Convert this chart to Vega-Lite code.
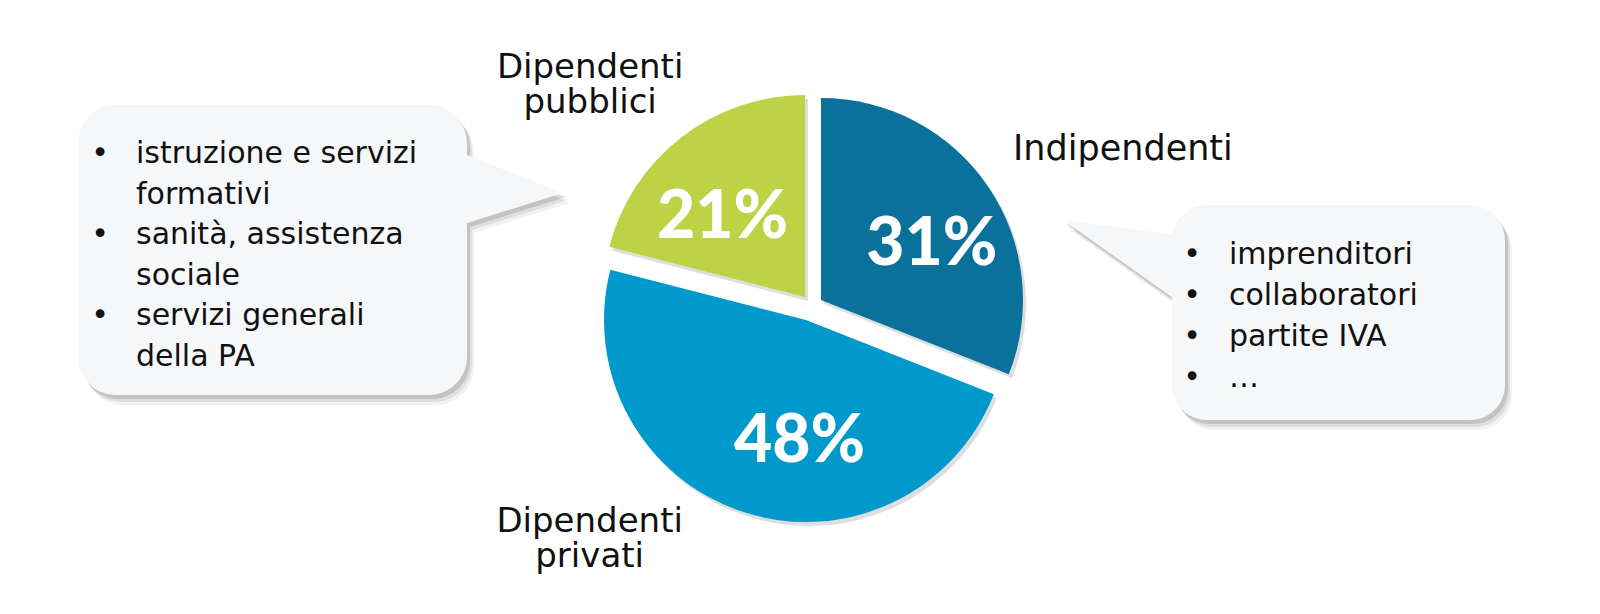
{
  "$schema": "https://vega.github.io/schema/vega-lite/v6.json",
  "width": 1600,
  "height": 614,
  "padding": 0,
  "autosize": {"type": "none"},
  "background": "#ffffff",
  "config": {"view": {"stroke": null}},
  "datasets": {
    "pie": [
      {"cat": "Indipendenti", "name": "Indipendenti", "value": 31, "ord": 1, "pct": "31%"},
      {"cat": "Dipendenti privati", "name": "Dipendenti\nprivati", "value": 48, "ord": 2, "pct": "48%"},
      {"cat": "Dipendenti pubblici", "name": "Dipendenti\npubblici", "value": 21, "ord": 3, "pct": "21%"}
    ],
    "callouts": [
      {"cat": "Dipendenti pubblici", "items": "istruzione e servizi\nformativi\nsanità, assistenza\nsociale\nservizi generali\ndella PA"},
      {"cat": "Indipendenti", "items": "imprenditori\ncollaboratori\npartite IVA\n…"}
    ]
  },
  "layer": [
    {
      "data": {"name": "callouts"},
      "mark": {"type": "point", "filled": true, "size": 4, "color": "#000000", "opacity": 0.05, "strokeWidth": 0, "xOffset": 7, "yOffset": 10},
      "encoding": {
        "x": {"datum": 0, "type": "quantitative", "scale": {"domain": [-1, 1]}, "axis": null},
        "y": {"datum": 0, "type": "quantitative", "scale": {"domain": [-1, 1]}, "axis": null},
        "shape": {"field": "cat", "type": "nominal", "legend": null, "scale": {"domain": ["Dipendenti pubblici", "Indipendenti"], "range": ["M-684,-202 L-371,-202 A38,38 0 0 1 -333,-164 L-333,50 A38,38 0 0 1 -371,88 L-684,88 A38,38 0 0 1 -722,50 L-722,-164 A38,38 0 0 1 -684,-202 Z M-237,-114 L-360,-75.6 L-360,-162.7 Z", "M407,-102 L670,-102 A35,35 0 0 1 705,-67 L705,78 A35,35 0 0 1 670,113 L407,113 A35,35 0 0 1 372,78 L372,-67 A35,35 0 0 1 407,-102 Z M263,-87 L400,-69 L400,10 Z"]}}
      }
    },
    {
      "data": {"name": "callouts"},
      "mark": {"type": "point", "filled": true, "size": 4, "color": "#000000", "opacity": 0.08, "strokeWidth": 0, "xOffset": 5, "yOffset": 7},
      "encoding": {
        "x": {"datum": 0, "type": "quantitative", "scale": {"domain": [-1, 1]}, "axis": null},
        "y": {"datum": 0, "type": "quantitative", "scale": {"domain": [-1, 1]}, "axis": null},
        "shape": {"field": "cat", "type": "nominal", "legend": null}
      }
    },
    {
      "data": {"name": "callouts"},
      "mark": {"type": "point", "filled": true, "size": 4, "color": "#000000", "opacity": 0.12, "strokeWidth": 0, "xOffset": 3, "yOffset": 4},
      "encoding": {
        "x": {"datum": 0, "type": "quantitative", "scale": {"domain": [-1, 1]}, "axis": null},
        "y": {"datum": 0, "type": "quantitative", "scale": {"domain": [-1, 1]}, "axis": null},
        "shape": {"field": "cat", "type": "nominal", "legend": null}
      }
    },
    {
      "data": {"name": "callouts"},
      "mark": {"type": "point", "filled": true, "size": 4, "color": "#f6f7f9", "opacity": 1, "strokeWidth": 0},
      "encoding": {
        "x": {"datum": 0, "type": "quantitative", "scale": {"domain": [-1, 1]}, "axis": null},
        "y": {"datum": 0, "type": "quantitative", "scale": {"domain": [-1, 1]}, "axis": null},
        "shape": {"field": "cat", "type": "nominal", "legend": null}
      }
    },
    {
      "data": {"name": "callouts"},
      "transform": [{"filter": "datum.cat === 'Dipendenti pubblici'"}],
      "mark": {"type": "text", "align": "center", "baseline": "alphabetic", "dx": -700, "dy": -144, "fontSize": 30, "font": "DejaVu Sans", "lineHeight": 81, "lineBreak": "\n", "color": "#111111"},
      "encoding": {
        "x": {"datum": 0, "type": "quantitative", "scale": {"domain": [-1, 1]}, "axis": null},
        "y": {"datum": 0, "type": "quantitative", "scale": {"domain": [-1, 1]}, "axis": null},
        "text": {"value": "•\n•\n•"}
      }
    },
    {
      "data": {"name": "callouts"},
      "transform": [{"filter": "datum.cat === 'Dipendenti pubblici'"}],
      "mark": {"type": "text", "align": "left", "baseline": "alphabetic", "dx": -664, "dy": -144, "fontSize": 30, "font": "DejaVu Sans", "lineHeight": 40.5, "lineBreak": "\n", "color": "#111111"},
      "encoding": {
        "x": {"datum": 0, "type": "quantitative", "scale": {"domain": [-1, 1]}, "axis": null},
        "y": {"datum": 0, "type": "quantitative", "scale": {"domain": [-1, 1]}, "axis": null},
        "text": {"field": "items", "type": "nominal"}
      }
    },
    {
      "data": {"name": "callouts"},
      "transform": [{"filter": "datum.cat === 'Indipendenti'"}],
      "mark": {"type": "text", "align": "center", "baseline": "alphabetic", "dx": 392, "dy": -43, "fontSize": 30, "font": "DejaVu Sans", "lineHeight": 41, "lineBreak": "\n", "color": "#111111"},
      "encoding": {
        "x": {"datum": 0, "type": "quantitative", "scale": {"domain": [-1, 1]}, "axis": null},
        "y": {"datum": 0, "type": "quantitative", "scale": {"domain": [-1, 1]}, "axis": null},
        "text": {"value": "•\n•\n•\n•"}
      }
    },
    {
      "data": {"name": "callouts"},
      "transform": [{"filter": "datum.cat === 'Indipendenti'"}],
      "mark": {"type": "text", "align": "left", "baseline": "alphabetic", "dx": 429, "dy": -43, "fontSize": 30, "font": "DejaVu Sans", "lineHeight": 41, "lineBreak": "\n", "color": "#111111"},
      "encoding": {
        "x": {"datum": 0, "type": "quantitative", "scale": {"domain": [-1, 1]}, "axis": null},
        "y": {"datum": 0, "type": "quantitative", "scale": {"domain": [-1, 1]}, "axis": null},
        "text": {"field": "items", "type": "nominal"}
      }
    },
    {
      "data": {"name": "pie"},
      "mark": {"type": "arc", "radius": 202, "color": "#000000", "xOffset": 24, "yOffset": -3},
      "encoding": {
        "x": {"datum": 0, "type": "quantitative", "scale": {"domain": [-1, 1]}, "axis": null},
        "y": {"datum": 0, "type": "quantitative", "scale": {"domain": [-1, 1]}, "axis": null},
        "theta": {"field": "value", "type": "quantitative", "stack": true},
        "order": {"field": "ord", "type": "quantitative"},
        "opacity": {"condition": {"test": "datum.cat === 'Indipendenti'", "value": 0.13}, "value": 0}
      }
    },
    {
      "data": {"name": "pie"},
      "mark": {"type": "arc", "radius": 202, "color": "#000000", "xOffset": 9, "yOffset": 17},
      "encoding": {
        "x": {"datum": 0, "type": "quantitative", "scale": {"domain": [-1, 1]}, "axis": null},
        "y": {"datum": 0, "type": "quantitative", "scale": {"domain": [-1, 1]}, "axis": null},
        "theta": {"field": "value", "type": "quantitative", "stack": true},
        "order": {"field": "ord", "type": "quantitative"},
        "opacity": {"condition": {"test": "datum.cat === 'Dipendenti privati'", "value": 0.13}, "value": 0}
      }
    },
    {
      "data": {"name": "pie"},
      "mark": {"type": "arc", "radius": 202, "color": "#000000", "xOffset": 8, "yOffset": -6},
      "encoding": {
        "x": {"datum": 0, "type": "quantitative", "scale": {"domain": [-1, 1]}, "axis": null},
        "y": {"datum": 0, "type": "quantitative", "scale": {"domain": [-1, 1]}, "axis": null},
        "theta": {"field": "value", "type": "quantitative", "stack": true},
        "order": {"field": "ord", "type": "quantitative"},
        "opacity": {"condition": {"test": "datum.cat === 'Dipendenti pubblici'", "value": 0.13}, "value": 0}
      }
    },
    {
      "data": {"name": "pie"},
      "mark": {"type": "arc", "radius": 202, "xOffset": 21, "yOffset": -7},
      "encoding": {
        "x": {"datum": 0, "type": "quantitative", "scale": {"domain": [-1, 1]}, "axis": null},
        "y": {"datum": 0, "type": "quantitative", "scale": {"domain": [-1, 1]}, "axis": null},
        "theta": {"field": "value", "type": "quantitative", "stack": true},
        "order": {"field": "ord", "type": "quantitative"},
        "color": {"field": "cat", "type": "nominal", "legend": null, "scale": {"domain": ["Indipendenti", "Dipendenti privati", "Dipendenti pubblici"], "range": ["#0a719b", "#0099cc", "#bdd244"]}},
        "opacity": {"condition": {"test": "datum.cat === 'Indipendenti'", "value": 1}, "value": 0}
      }
    },
    {
      "data": {"name": "pie"},
      "mark": {"type": "arc", "radius": 202, "xOffset": 6, "yOffset": 13},
      "encoding": {
        "x": {"datum": 0, "type": "quantitative", "scale": {"domain": [-1, 1]}, "axis": null},
        "y": {"datum": 0, "type": "quantitative", "scale": {"domain": [-1, 1]}, "axis": null},
        "theta": {"field": "value", "type": "quantitative", "stack": true},
        "order": {"field": "ord", "type": "quantitative"},
        "color": {"field": "cat", "type": "nominal", "legend": null},
        "opacity": {"condition": {"test": "datum.cat === 'Dipendenti privati'", "value": 1}, "value": 0}
      }
    },
    {
      "data": {"name": "pie"},
      "mark": {"type": "arc", "radius": 202, "xOffset": 5, "yOffset": -10},
      "encoding": {
        "x": {"datum": 0, "type": "quantitative", "scale": {"domain": [-1, 1]}, "axis": null},
        "y": {"datum": 0, "type": "quantitative", "scale": {"domain": [-1, 1]}, "axis": null},
        "theta": {"field": "value", "type": "quantitative", "stack": true},
        "order": {"field": "ord", "type": "quantitative"},
        "color": {"field": "cat", "type": "nominal", "legend": null},
        "opacity": {"condition": {"test": "datum.cat === 'Dipendenti pubblici'", "value": 1}, "value": 0}
      }
    },
    {
      "data": {"name": "pie"},
      "mark": {"type": "text", "radius": 123, "xOffset": 21, "yOffset": -7, "dx": 9, "dy": 14, "font": "Lato", "fontWeight": 900, "fontSize": 66, "color": "#ffffff", "align": "center", "baseline": "middle"},
      "encoding": {
        "x": {"datum": 0, "type": "quantitative", "scale": {"domain": [-1, 1]}, "axis": null},
        "y": {"datum": 0, "type": "quantitative", "scale": {"domain": [-1, 1]}, "axis": null},
        "theta": {"field": "value", "type": "quantitative", "stack": true},
        "order": {"field": "ord", "type": "quantitative"},
        "text": {"field": "pct", "type": "nominal"},
        "opacity": {"condition": {"test": "datum.cat === 'Indipendenti'", "value": 1}, "value": 0}
      }
    },
    {
      "data": {"name": "pie"},
      "mark": {"type": "text", "radius": 118, "xOffset": 6, "yOffset": 13, "dx": 30, "dy": 10, "font": "Lato", "fontWeight": 900, "fontSize": 66, "color": "#ffffff", "align": "center", "baseline": "middle"},
      "encoding": {
        "x": {"datum": 0, "type": "quantitative", "scale": {"domain": [-1, 1]}, "axis": null},
        "y": {"datum": 0, "type": "quantitative", "scale": {"domain": [-1, 1]}, "axis": null},
        "theta": {"field": "value", "type": "quantitative", "stack": true},
        "order": {"field": "ord", "type": "quantitative"},
        "text": {"field": "pct", "type": "nominal"},
        "opacity": {"condition": {"test": "datum.cat === 'Dipendenti privati'", "value": 1}, "value": 0}
      }
    },
    {
      "data": {"name": "pie"},
      "mark": {"type": "text", "radius": 115, "xOffset": 5, "yOffset": -10, "dx": -12, "dy": 12, "font": "Lato", "fontWeight": 900, "fontSize": 66, "color": "#ffffff", "align": "center", "baseline": "middle"},
      "encoding": {
        "x": {"datum": 0, "type": "quantitative", "scale": {"domain": [-1, 1]}, "axis": null},
        "y": {"datum": 0, "type": "quantitative", "scale": {"domain": [-1, 1]}, "axis": null},
        "theta": {"field": "value", "type": "quantitative", "stack": true},
        "order": {"field": "ord", "type": "quantitative"},
        "text": {"field": "pct", "type": "nominal"},
        "opacity": {"condition": {"test": "datum.cat === 'Dipendenti pubblici'", "value": 1}, "value": 0}
      }
    },
    {
      "data": {"name": "pie"},
      "mark": {"type": "text", "radius": 260, "dx": -2, "dy": -1, "font": "DejaVu Sans", "fontSize": 35, "lineHeight": 35, "lineBreak": "\n", "color": "#111111", "align": "left", "baseline": "alphabetic"},
      "encoding": {
        "x": {"datum": 0, "type": "quantitative", "scale": {"domain": [-1, 1]}, "axis": null},
        "y": {"datum": 0, "type": "quantitative", "scale": {"domain": [-1, 1]}, "axis": null},
        "theta": {"field": "value", "type": "quantitative", "stack": true},
        "order": {"field": "ord", "type": "quantitative"},
        "text": {"field": "name", "type": "nominal"},
        "opacity": {"condition": {"test": "datum.cat === 'Indipendenti'", "value": 1}, "value": 0}
      }
    },
    {
      "data": {"name": "pie"},
      "mark": {"type": "text", "radius": 260, "dx": -130, "dy": -22, "font": "DejaVu Sans", "fontSize": 34, "lineHeight": 35, "lineBreak": "\n", "color": "#111111", "align": "center", "baseline": "alphabetic"},
      "encoding": {
        "x": {"datum": 0, "type": "quantitative", "scale": {"domain": [-1, 1]}, "axis": null},
        "y": {"datum": 0, "type": "quantitative", "scale": {"domain": [-1, 1]}, "axis": null},
        "theta": {"field": "value", "type": "quantitative", "stack": true},
        "order": {"field": "ord", "type": "quantitative"},
        "text": {"field": "name", "type": "nominal"},
        "opacity": {"condition": {"test": "datum.cat === 'Dipendenti privati'", "value": 1}, "value": 0}
      }
    },
    {
      "data": {"name": "pie"},
      "mark": {"type": "text", "radius": 300, "dx": -26, "dy": 8, "font": "DejaVu Sans", "fontSize": 34, "lineHeight": 35, "lineBreak": "\n", "color": "#111111", "align": "center", "baseline": "alphabetic"},
      "encoding": {
        "x": {"datum": 0, "type": "quantitative", "scale": {"domain": [-1, 1]}, "axis": null},
        "y": {"datum": 0, "type": "quantitative", "scale": {"domain": [-1, 1]}, "axis": null},
        "theta": {"field": "value", "type": "quantitative", "stack": true},
        "order": {"field": "ord", "type": "quantitative"},
        "text": {"field": "name", "type": "nominal"},
        "opacity": {"condition": {"test": "datum.cat === 'Dipendenti pubblici'", "value": 1}, "value": 0}
      }
    }
  ]
}
